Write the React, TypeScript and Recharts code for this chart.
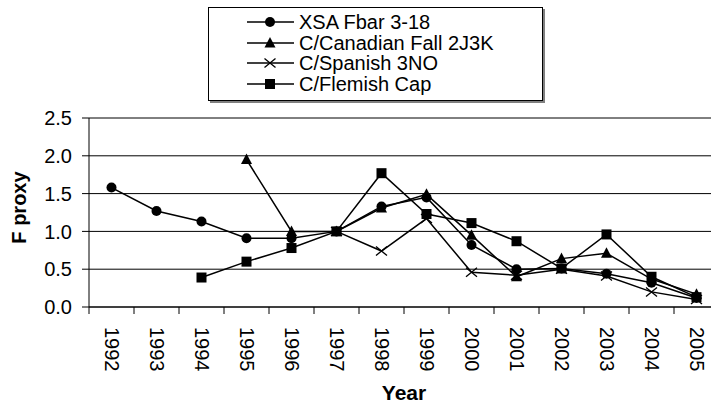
import React from 'react';
import { LineChart, Line, XAxis, YAxis, CartesianGrid, Legend, Label } from 'recharts';

const years = [1992, 1993, 1994, 1995, 1996, 1997, 1998, 1999, 2000, 2001, 2002, 2003, 2004, 2005];
const xsaFbar = [1.58, 1.27, 1.13, 0.91, 0.91, 1.0, 1.33, 1.45, 0.82, 0.5, 0.51, 0.44, 0.32, 0.12];
const canadianFall = [null, null, null, 1.95, 1.0, 1.0, 1.31, 1.49, 0.95, 0.4, 0.64, 0.71, 0.37, 0.17];
const spanish3NO = [null, null, null, null, null, 1.0, 0.74, 1.17, 0.46, 0.42, 0.5, 0.41, 0.2, 0.1];
const flemishCap = [null, null, 0.39, 0.6, 0.78, 1.0, 1.77, 1.23, 1.11, 0.87, 0.51, 0.96, 0.4, 0.13];
const yTicks = [0, 0.5, 1.0, 1.5, 2.0, 2.5];

const series = [
  { key: 'xsa', name: 'XSA Fbar 3-18', shape: 'circle', values: xsaFbar },
  { key: 'can', name: 'C/Canadian Fall 2J3K', shape: 'triangle', values: canadianFall },
  { key: 'spa', name: 'C/Spanish 3NO', shape: 'cross', values: spanish3NO },
  { key: 'fle', name: 'C/Flemish Cap', shape: 'square', values: flemishCap },
];

const data = years.map((year, i) => {
  const row: any = { year };
  series.forEach((s) => { row[s.key] = s.values[i]; });
  return row;
});

const FONT = '"Liberation Sans", Arial, sans-serif';
const CHART_W = 720;
const CHART_H = 406;
const Y_W = 89;
const MARGIN = { top: 118, right: 1, bottom: 0, left: 0 };
const BAND = (CHART_W - Y_W - MARGIN.left - MARGIN.right) / years.length;

const Marker = ({ cx, cy, shape }: { cx: number; cy: number; shape: string }) => {
  if (shape === 'circle') return <circle cx={cx} cy={cy} r={5} fill="#000" />;
  if (shape === 'triangle')
    return <polygon points={`${cx},${cy - 6} ${cx - 5.5},${cy + 4.5} ${cx + 5.5},${cy + 4.5}`} fill="#000" />;
  if (shape === 'square') return <rect x={cx - 5} y={cy - 5} width={10} height={10} fill="#000" />;
  return (
    <path
      d={`M${cx - 5.5},${cy - 4.5}L${cx + 5.5},${cy + 4.5}M${cx - 5.5},${cy + 4.5}L${cx + 5.5},${cy - 4.5}`}
      stroke="#000"
      strokeWidth={1.3}
      fill="none"
    />
  );
};

const makeDot = (shape: string, key: string) => (props: any) => {
  const { cx, cy, index, value } = props;
  if (value == null || cx == null || cy == null) return <g key={`${key}-${index}`} />;
  return (
    <g key={`${key}-${index}`}>
      <Marker cx={cx} cy={cy} shape={shape} />
    </g>
  );
};

const YearTick = (props: any) => {
  const { x, y, payload } = props;
  const bx = x - BAND / 2;
  const ty = y + 20;
  return (
    <g>
      <line x1={bx} x2={bx} y1={y} y2={y + 7} stroke="#000" />
      <text
        x={x}
        y={ty}
        transform={`rotate(90 ${x} ${ty})`}
        textAnchor="start"
        dominantBaseline="central"
        fontSize={20}
        fill="#000"
        fontFamily={FONT}
      >
        {payload.value}
      </text>
    </g>
  );
};

const YTitle = (props: any) => {
  const vb = props.viewBox;
  const cx = vb.x + 19;
  const cy = vb.y + vb.height / 2 - 5;
  return (
    <text
      x={cx}
      y={cy}
      transform={`rotate(-90 ${cx} ${cy})`}
      textAnchor="middle"
      dominantBaseline="central"
      fontSize={20}
      fontWeight="bold"
      fill="#000"
      fontFamily={FONT}
    >
      F proxy
    </text>
  );
};

const LegendBox = () => (
  <div
    style={{
      width: 335,
      height: 94,
      boxSizing: 'border-box',
      border: '1px solid #000',
      boxShadow: '2px 2px 0 #808080',
      background: '#fff',
      paddingTop: 4,
      paddingLeft: 38,
      fontFamily: FONT,
      fontSize: 20,
      color: '#000',
    }}
  >
    {series.map((s) => (
      <div key={s.key} style={{ display: 'flex', alignItems: 'center', height: 20.5, whiteSpace: 'nowrap' }}>
        <svg width={52} height={14} style={{ flex: 'none' }}>
          <line x1={0} x2={47} y1={7} y2={7} stroke="#000" strokeWidth={1.5} />
          <Marker cx={23} cy={7} shape={s.shape} />
        </svg>
        <span style={{ lineHeight: '20px' }}>{s.name}</span>
      </div>
    ))}
  </div>
);

export default function App() {
  return (
    <div style={{ position: 'absolute', left: 0, top: 0, width: 711, height: 406, overflow: 'hidden', background: '#fff' }}>
      <LineChart width={CHART_W} height={CHART_H} data={data} margin={MARGIN} style={{ fontFamily: FONT }}>
        <CartesianGrid vertical={false} stroke="#000" strokeWidth={1} />
        <XAxis
          dataKey="year"
          type="number"
          domain={[years[0] - 0.5, years[years.length - 1] + 0.5]}
          ticks={years}
          interval={0}
          height={99}
          tickSize={0}
          tickMargin={0}
          tickLine={false}
          axisLine={{ stroke: '#000' }}
          tick={<YearTick />}
        >
          <Label
            value="Year"
            position="insideBottom"
            offset={6}
            style={{ fontWeight: 'bold', fontSize: 21, fill: '#000', fontFamily: FONT }}
          />
        </XAxis>
        <YAxis
          width={Y_W}
          domain={[0, 2.5]}
          ticks={yTicks}
          interval={0}
          tickSize={7}
          tickMargin={10}
          tickFormatter={(v: number) => v.toFixed(1)}
          tick={{ fill: '#000', fontSize: 20, fontFamily: FONT }}
          tickLine={{ stroke: '#000' }}
          axisLine={{ stroke: '#000' }}
        >
          <Label content={<YTitle />} />
        </YAxis>
        <Legend
          layout="horizontal"
          verticalAlign="middle"
          align="center"
          content={<LegendBox />}
          wrapperStyle={{ left: 208, top: 7, width: 335, height: 94 }}
        />
        {series.map((s) => (
          <Line
            key={s.key}
            dataKey={s.key}
            name={s.name}
            stroke="#000"
            strokeWidth={1.5}
            dot={makeDot(s.shape, s.key)}
            activeDot={false}
            isAnimationActive={false}
          />
        ))}
      </LineChart>
    </div>
  );
}
